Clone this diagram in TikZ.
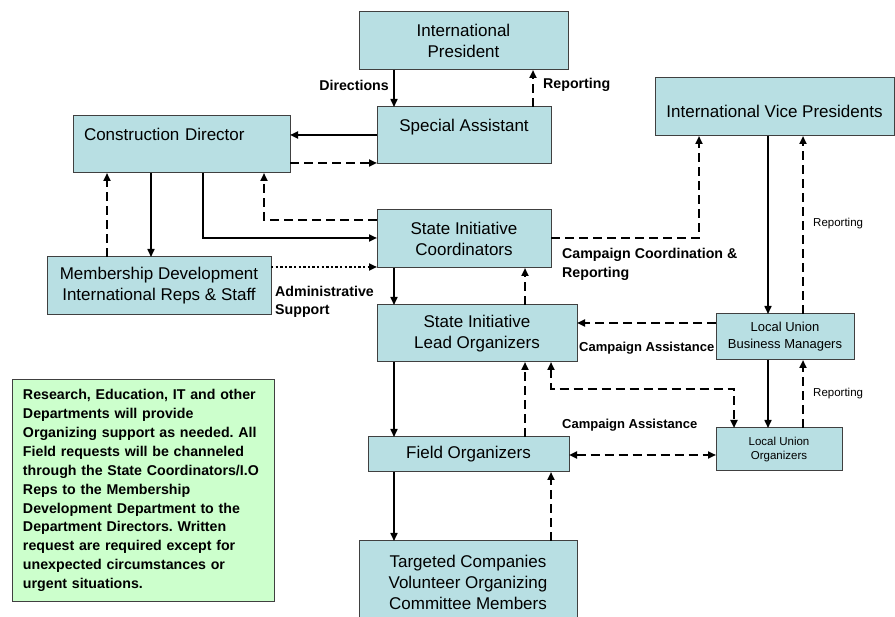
\documentclass[tikz,border=0pt]{standalone}
\usepackage{fontspec}
\setmainfont{Liberation Sans}
\usetikzlibrary{arrows.meta}
\definecolor{boxfill}{RGB}{184,223,227}
\definecolor{greenfill}{RGB}{204,255,204}
\definecolor{boxline}{RGB}{64,64,64}
\frenchspacing
\begin{document}
\begin{tikzpicture}[x=1pt,y=-1pt,
  box/.style={draw=boxline,line width=1pt,fill=boxfill,inner sep=0pt,outer sep=0pt,align=center,font=\fontsize{17}{21}\selectfont},
  smallbox/.style={box,font=\fontsize{13}{17}\selectfont},
  tinybox/.style={box,font=\fontsize{11.5}{14.5}\selectfont},
  notebox/.style={draw=boxline,line width=1pt,fill=greenfill,inner sep=0pt,outer sep=0pt,align=left,font=\fontsize{14.2}{18.9}\selectfont\bfseries},
  lbl/.style={inner sep=0pt,align=left,font=\fontsize{14.2}{18.5}\selectfont\bfseries},
  lblb/.style={inner sep=0pt,align=left,font=\fontsize{13}{18}\selectfont\bfseries},
  smalllbl/.style={inner sep=0pt,font=\fontsize{11.5}{14}\selectfont},
  tip/.style={-{Triangle[length=8pt,width=7pt]}},
  thin/.style={tip,line width=1.6pt},
  thick/.style={tip,line width=2.6pt},
  dsh/.style={tip,line width=2.3pt,dash pattern=on 9pt off 5pt},
  dsh2/.style={{Triangle[length=8pt,width=7pt]}-{Triangle[length=8pt,width=7pt]},line width=2.3pt,dash pattern=on 9pt off 5pt},
  dot/.style={tip,line width=2.3pt,dash pattern=on 2.4pt off 2.2pt}
]
\useasboundingbox (0,0) rectangle (895,617);

% boxes
\node[box,minimum width=209pt,minimum height=58pt] (IP) at (463.5,41) {International\\President};
\node[box,minimum width=174pt,minimum height=57pt] (SA) at (464,135.5) {Special Assistant\\\mbox{}};
\node[box,minimum width=217pt,minimum height=57pt,text width=195pt,align=left] (CD) at (181.5,144.5) {Construction Director\\\mbox{}};
\node[box,minimum width=224pt,minimum height=58pt] (MD) at (159,286) {Membership Development\\International Reps \& Staff};
\node[box,minimum width=174pt,minimum height=58pt] (SIC) at (464,239) {State Initiative\\Coordinators};
\node[box,minimum width=200pt,minimum height=57pt] (SILO) at (477,333.5) {State Initiative\\Lead Organizers};
\node[box,minimum width=201pt,minimum height=35pt] (FO) at (468.5,454.5) {Field Organizers};
\node[box,minimum width=218pt,minimum height=82pt] (TC) at (468,582) {Targeted Companies\\Volunteer Organizing\\Committee Members};
\node[box,minimum width=239pt,minimum height=58pt] (IVP) at (774.5,107) {\mbox{}\\International Vice Presidents};
\node[smallbox,minimum width=138pt,minimum height=46pt] (LUBM) at (785,337) {Local Union\\Business Managers};
\node[tinybox,minimum width=126pt,minimum height=43pt] (LUO) at (779,449.5) {Local Union\\Organizers};
\node[notebox,minimum width=262pt,minimum height=221pt,text width=240pt] (NOTE) at (143,490.5) {Research, Education, IT and other\\Departments will provide\\Organizing support as needed. All\\Field requests will be channeled\\through the State Coordinators/I.O\\Reps to the Membership\\Development Department to the\\Department Directors. Written\\request are required except for\\unexpected circumstances or\\urgent situations.};

% reference coordinates
\coordinate (xA) at (394,0);
\coordinate (xB) at (533,0);
\coordinate (xC) at (151,0);
\coordinate (xD) at (107,0);
\coordinate (xG) at (525,0);
\coordinate (xI) at (768,0);
\coordinate (xJ) at (803,0);
\coordinate (xK) at (551,0);
\coordinate (yM) at (0,135);
\coordinate (yN) at (0,163);
\coordinate (yQ) at (0,267);
\coordinate (yR) at (0,323);
\coordinate (yT) at (0,455);
\coordinate (c1) at (203,238);
\coordinate (c2) at (264,220);
\coordinate (c3) at (699,238);
\coordinate (c4) at (551,389);
\coordinate (c5) at (734,389);

% connectors
\draw[thin] (IP.south -| xA) -- (SA.north -| xA);
\draw[dsh] (SA.north -| xB) -- (IP.south -| xB);
\draw[thick] (SA.west |- yM) -- (CD.east |- yM);
\draw[dsh] (CD.east |- yN) -- (SA.west |- yN);
\draw[thin] (CD.south -| xC) -- (MD.north -| xC);
\draw[dsh] (MD.north -| xD) -- (CD.south -| xD);
\draw[thick] (CD.south -| c1) |- (SIC.west |- c1);
\draw[dsh] (SIC.west |- c2) -| (CD.south -| c2);
\draw[dot] (MD.east |- yQ) -- (SIC.west |- yQ);
\draw[thin] (SIC.south -| xA) -- (SILO.north -| xA);
\draw[dsh] (SILO.north -| xG) -- (SIC.south -| xG);
\draw[dsh] (SIC.east |- c3) -| (IVP.south -| c3);
\draw[thin] (IVP.south -| xI) -- (LUBM.north -| xI);
\draw[dsh] (LUBM.north -| xJ) -- (IVP.south -| xJ);
\draw[dsh] (LUBM.west |- yR) -- (SILO.east |- yR);
\draw[thin] (SILO.south -| xA) -- (FO.north -| xA);
\draw[dsh] (FO.north -| xG) -- (SILO.south -| xG);
\draw[dsh2] (SILO.south -| c4) -- (c4) -| (LUO.north -| c5);
\draw[dsh2] (FO.east |- yT) -- (LUO.west |- yT);
\draw[thin] (LUBM.south -| xI) -- (LUO.north -| xI);
\draw[dsh] (LUO.north -| xJ) -- (LUBM.south -| xJ);
\draw[thin] (FO.south -| xA) -- (TC.north -| xA);
\draw[dsh] (TC.north -| xK) -- (FO.south -| xK);

% labels
\node[lbl,anchor=east] (lDir) at (389,85) {Directions};
\node[lbl,anchor=west] (lRep) at (543,85) {Reporting};
\node[lbl,anchor=west] (lAdm) at (275,302) {Administrative\\Support};
\node[lbl,anchor=west] (lCC) at (562,264.5) {Campaign Coordination \&\\Reporting};
\node[lblb,anchor=west] (lCA1) at (579,348) {Campaign Assistance};
\node[lblb,anchor=west] (lCA2) at (562,425) {Campaign Assistance};
\node[smalllbl,anchor=west] (lR1) at (813,224) {Reporting};
\node[smalllbl,anchor=west] (lR2) at (813,394) {Reporting};
\end{tikzpicture}
\end{document}
